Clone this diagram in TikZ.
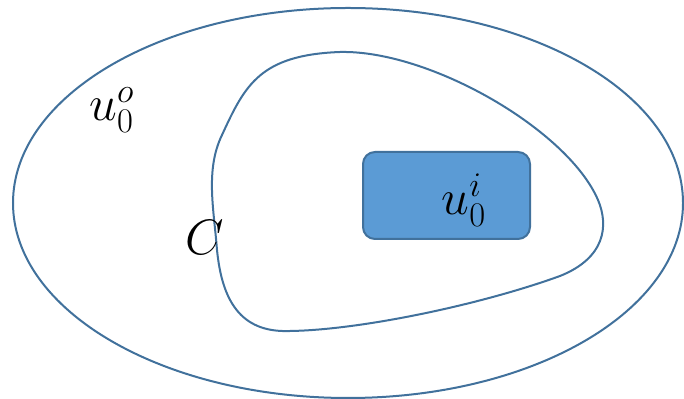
\documentclass[tikz,border=0pt]{standalone}
\usepackage{amsmath,amssymb}
\usepackage{xcolor}
\usepackage{tikz}
\usetikzlibrary{positioning}
\definecolor{edgeblue}{HTML}{41719C}
\definecolor{fillblue}{HTML}{5B9BD5}
\tikzset{
  boundary/.style={draw=edgeblue,line width=1pt},
  region/.style={draw=edgeblue,line width=1pt,fill=fillblue,rounded corners=6pt},
  lbl/.style={inner sep=0pt,font=\fontsize{24}{28}\selectfont}
}
\begin{document}
\begin{tikzpicture}[x=0.5pt,y=-0.5pt]
  \useasboundingbox (0,0) rectangle (684,399);
  % outer domain
  \draw[boundary] (348,203) ellipse [x radius=335,y radius=195];
  % curve C
  \draw[boundary] (340,52) .. controls (430,50) and (568,130) .. (598,200)
    .. controls (609,226) and (605,258) .. (560,276)
    .. controls (480,305) and (360,330) .. (290,331)
    .. controls (240,333) and (222,300) .. (217,250)
    .. controls (214,210) and (205,170) .. (222,135)
    .. controls (245,85) and (260,55) .. cycle;
  \draw[region] (363,152) rectangle (530,239);
  \node[lbl] (uout) at (112,110) {$u_0^o$};
  \node[lbl] (curve) at (205,238) {$C$};
  \node[lbl] (uin) at (464,200) {$u_0^i$};
\end{tikzpicture}
\end{document}
